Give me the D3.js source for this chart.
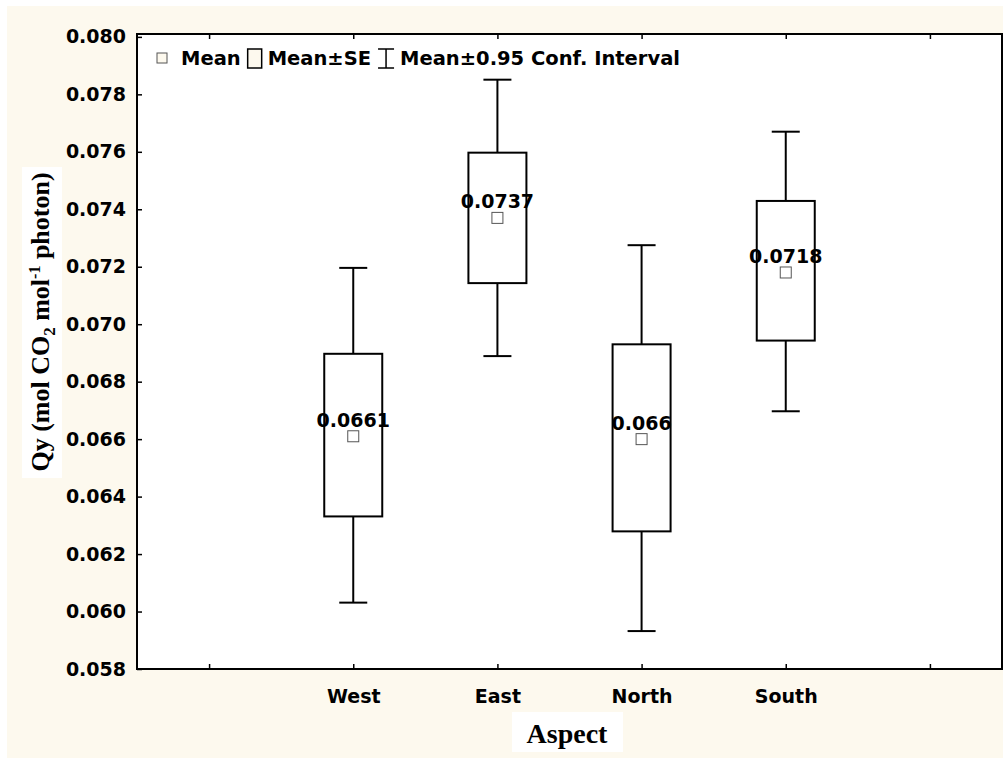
<!DOCTYPE html>
<html>
<head>
<meta charset="utf-8">
<script src="https://cdn.jsdelivr.net/npm/d3@7"></script>
<style>
  body { margin: 0; background: #fff; }
  svg { display: block; }
</style>
</head>
<body>
<div id="chart"></div>
<script>
// Data
const categories = ["West", "East", "North", "South"];
const means      = [0.0661, 0.0737, 0.0660, 0.0718];
const meanLabels = ["0.0661", "0.0737", "0.066", "0.0718"];
const seLow      = [0.06331, 0.07143, 0.06279, 0.06943];
const seHigh     = [0.06897, 0.07597, 0.06930, 0.07429];
const ciLow      = [0.06031, 0.06889, 0.05932, 0.06697];
const ciHigh     = [0.07196, 0.07851, 0.07275, 0.07670];
const yTicks     = [0.058, 0.060, 0.062, 0.064, 0.066, 0.068, 0.070, 0.072, 0.074, 0.076, 0.078, 0.080];

const width = 1003, height = 758;
const margin = { top: 34, right: 1, bottom: 89, left: 137 };
const cream = "#fdf9ee";
const sans = "'DejaVu Sans', Verdana, sans-serif";
const serif = "'Liberation Serif', 'Times New Roman', serif";

const rows = categories.map((c, i) => ({
  cat: c, mean: means[i], label: meanLabels[i],
  seLo: seLow[i], seHi: seHigh[i], ciLo: ciLow[i], ciHi: ciHigh[i]
}));

const svg = d3.select("#chart").append("svg")
  .attr("width", width)
  .attr("height", height);

// page background
svg.append("rect")
  .attr("x", 7).attr("y", 6)
  .attr("width", width - 7).attr("height", height - 6)
  .attr("fill", cream);

// empty slots at both ends, like the original
const xDomain = ["_l", ...categories, "_r"];
const x = d3.scalePoint()
  .domain(xDomain)
  .range([margin.left, width - margin.right])
  .padding(0.5);

const y = d3.scaleLinear()
  .domain([0.058, 0.0801])
  .range([height - margin.bottom, margin.top]);

// plot frame
svg.append("rect")
  .attr("x", margin.left).attr("y", margin.top)
  .attr("width", width - margin.right - margin.left)
  .attr("height", height - margin.bottom - margin.top)
  .attr("fill", "#fff");

// Axes (ticks point inwards)
const yAxis = svg.append("g")
  .attr("transform", `translate(${margin.left},0)`)
  .call(d3.axisLeft(y).tickValues(yTicks).tickFormat(d3.format(".3f"))
    .tickSizeInner(-5).tickSizeOuter(0).tickPadding(11));

const xAxis = svg.append("g")
  .attr("transform", `translate(0,${height - margin.bottom})`)
  .call(d3.axisBottom(x).tickFormat(d => d.startsWith("_") ? "" : d)
    .tickSizeInner(-5).tickSizeOuter(0).tickPadding(21));

const xTop = svg.append("g")
  .attr("transform", `translate(0,${margin.top})`)
  .call(d3.axisTop(x).tickFormat("").tickSizeInner(-5).tickSizeOuter(0));

[yAxis, xAxis, xTop].forEach(g => {
  g.select(".domain").remove();
  g.selectAll("line").attr("stroke", "#000").attr("stroke-width", 1.5);
  g.selectAll("text")
    .attr("fill", "#000")
    .style("font-family", sans)
    .style("font-weight", "bold")
    .style("font-size", "19px");
});

svg.append("rect")
  .attr("x", margin.left).attr("y", margin.top)
  .attr("width", width - margin.right - margin.left)
  .attr("height", height - margin.bottom - margin.top)
  .attr("fill", "none")
  .attr("stroke", "#000")
  .attr("stroke-width", 2);

// Boxes + whiskers
const boxW = 58, capW = 28, mk = 11;
const g = svg.append("g");

const item = g.selectAll("g.item")
  .data(rows)
  .join("g")
  .attr("class", "item");

item.append("line")
  .attr("x1", d => x(d.cat)).attr("x2", d => x(d.cat))
  .attr("y1", d => y(d.ciHi)).attr("y2", d => y(d.seHi))
  .attr("stroke", "#000").attr("stroke-width", 2);

item.append("line")
  .attr("x1", d => x(d.cat)).attr("x2", d => x(d.cat))
  .attr("y1", d => y(d.seLo)).attr("y2", d => y(d.ciLo))
  .attr("stroke", "#000").attr("stroke-width", 2);

item.selectAll("line.cap")
  .data(d => [{ cat: d.cat, v: d.ciHi }, { cat: d.cat, v: d.ciLo }])
  .join("line")
  .attr("class", "cap")
  .attr("x1", d => x(d.cat) - capW / 2).attr("x2", d => x(d.cat) + capW / 2)
  .attr("y1", d => y(d.v)).attr("y2", d => y(d.v))
  .attr("stroke", "#000").attr("stroke-width", 2);

item.append("rect")
  .attr("x", d => x(d.cat) - boxW / 2)
  .attr("y", d => y(d.seHi))
  .attr("width", boxW)
  .attr("height", d => y(d.seLo) - y(d.seHi))
  .attr("fill", "none")
  .attr("stroke", "#000")
  .attr("stroke-width", 2);

item.append("rect")
  .attr("x", d => x(d.cat) - mk / 2)
  .attr("y", d => y(d.mean) - mk / 2)
  .attr("width", mk).attr("height", mk)
  .attr("fill", "#fff")
  .attr("stroke", "#555")
  .attr("stroke-width", 1);

item.append("text")
  .attr("x", d => x(d.cat))
  .attr("y", d => y(d.mean) - mk / 2 - 4)
  .attr("text-anchor", "middle")
  .style("font-family", sans)
  .style("font-weight", "bold")
  .style("font-size", "19px")
  .text(d => d.label);

// Legend
const leg = svg.append("g").attr("transform", "translate(157,58)");
const legFont = t => t.style("font-family", sans).style("font-weight", "bold").style("font-size", "19.5px");
let lx = 0;

leg.append("rect")
  .attr("x", lx).attr("y", -5).attr("width", 10).attr("height", 10)
  .attr("fill", cream).attr("stroke", "#555").attr("stroke-width", 1);
lx += 10 + 14;

function legText(str) {
  const t = leg.append("text").attr("x", lx).attr("y", 7).text(str).call(legFont);
  lx += t.node().getComputedTextLength() + 7;
}

legText("Mean");
leg.append("rect")
  .attr("x", lx).attr("y", -9).attr("width", 14).attr("height", 19)
  .attr("fill", cream).attr("stroke", "#000").attr("stroke-width", 1.5);
lx += 14 + 6;

legText("Mean\u00B1SE");
leg.append("path")
  .attr("d", `M${lx},-9H${lx + 16}M${lx + 8},-9V10M${lx},10H${lx + 16}`)
  .attr("stroke", "#000").attr("stroke-width", 1.5).attr("fill", "none");
lx += 16 + 6;

legText("Mean\u00B10.95 Conf. Interval");

// Axis titles on white patches
svg.append("rect")
  .attr("x", 22).attr("y", 167).attr("width", 40).attr("height", 311)
  .attr("fill", "#fff");

const yt = svg.append("text")
  .attr("transform", "translate(49,322) rotate(-90)")
  .attr("text-anchor", "middle")
  .style("font-family", serif)
  .style("font-weight", "bold")
  .style("font-size", "26px");
yt.append("tspan").text("Qy (mol CO");
yt.append("tspan").attr("dy", 6).style("font-size", "17px").text("2");
yt.append("tspan").attr("dy", -6).text(" mol");
yt.append("tspan").attr("dy", -9).style("font-size", "16px").text("-1");
yt.append("tspan").attr("dy", 9).text(" photon)");

svg.append("rect")
  .attr("x", 512).attr("y", 712).attr("width", 111).attr("height", 40)
  .attr("fill", "#fff");

svg.append("text")
  .attr("x", 567)
  .attr("y", 743)
  .attr("text-anchor", "middle")
  .style("font-family", serif)
  .style("font-weight", "bold")
  .style("font-size", "28px")
  .text("Aspect");
</script>
</body>
</html>
